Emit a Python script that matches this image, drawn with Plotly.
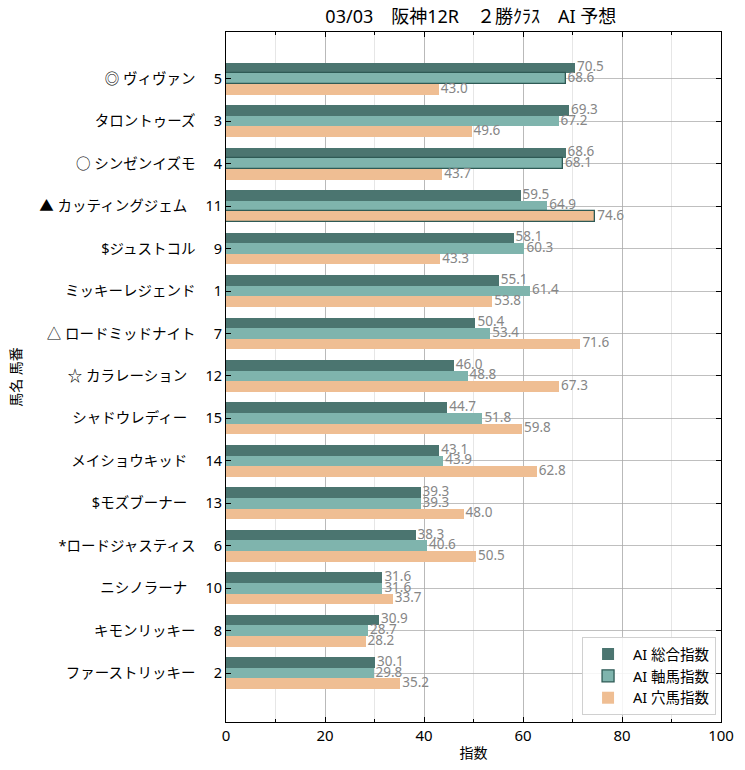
import plotly.graph_objects as go

title = "03/03　阪神12R　２勝ｸﾗｽ　AI 予想"
horse_names = ["◎ ヴィヴァン", "タロントゥーズ", "○ シンゼンイズモ", "▲ カッティングジェム",
               "$ジュストコル", "ミッキーレジェンド", "△ ロードミッドナイト", "☆ カラレーション",
               "シャドウレディー", "メイショウキッド", "$モズブーナー", "*ロードジャスティス",
               "ニシノラーナ", "キモンリッキー", "ファーストリッキー"]
horse_numbers = [5, 3, 4, 11, 9, 1, 7, 12, 15, 14, 13, 6, 10, 8, 2]
series_names = ["AI 総合指数", "AI 軸馬指数", "AI 穴馬指数"]
sogo = [70.5, 69.3, 68.6, 59.5, 58.1, 55.1, 50.4, 46.0, 44.7, 43.1, 39.3, 38.3, 31.6, 30.9, 30.1]
jiku = [68.6, 67.2, 68.1, 64.9, 60.3, 61.4, 53.4, 48.8, 51.8, 43.9, 39.3, 40.6, 31.6, 28.7, 29.8]
ana = [43.0, 49.6, 43.7, 74.6, 43.3, 53.8, 71.6, 67.3, 59.8, 62.8, 48.0, 50.5, 33.7, 28.2, 35.2]
# highlighted (outlined) bars per series
hl_sogo = [False] * 15
hl_jiku = [True, False, True] + [False] * 12
hl_ana = [False, False, False, True] + [False] * 11

colors = ["#4b7570", "#7fb4ad", "#efbe93"]
edge = "#2e5a55"
font = "Noto Sans, Noto Sans CJK JP"

labels = [f"{n}　 {k}" for n, k in zip(horse_names, horse_numbers)]
idx = list(range(len(labels)))
bw = 0.25
offsets = [-bw, 0.0, bw]
label_pad = 0.4

fig = go.Figure()
for s, vals, hl, c, off in zip(series_names, [sogo, jiku, ana], [hl_sogo, hl_jiku, hl_ana], colors, offsets):
    ys = [i + off for i in idx]
    fig.add_trace(go.Bar(
        x=vals, y=ys, orientation="h", width=bw, name=s,
        marker=dict(color=c,
                    line=dict(color=[edge if h else c for h in hl],
                              width=[1.3 if h else 0 for h in hl])),
    ))
for vals, off in zip([sogo, jiku, ana], offsets):
    ys = [i + off for i in idx]
    fig.add_trace(go.Scatter(
        x=[v + label_pad for v in vals], y=ys, mode="text", text=[f"{v:.1f}" for v in vals],
        textposition="middle right", textfont=dict(color="#868686", size=13.5, family=font),
        showlegend=False, hoverinfo="skip", cliponaxis=False,
    ))

fig.update_layout(
    width=745, height=770,
    margin=dict(l=226, r=24, t=32, b=48),
    paper_bgcolor="white", plot_bgcolor="white",
    font=dict(family=font, size=14.5, color="black"),
    title=dict(text=title, x=0.632, xanchor="center", y=0.978, yanchor="middle",
               font=dict(size=18, family=font, color="black")),
    barmode="overlay",
    bargap=0,
    showlegend=True,
    legend=dict(x=0.99, y=0.01, xanchor="right", yanchor="bottom",
                bordercolor="#d0d0d0", borderwidth=1, bgcolor="rgba(255,255,255,0.85)",
                font=dict(size=14.5, family=font, color="black"), traceorder="normal",
                itemwidth=40),
)
fig.update_xaxes(
    range=[0, 100], tickvals=[0, 20, 40, 60, 80, 100],
    ticks="inside", ticklen=5, tickcolor="black",
    showline=True, linecolor="black", linewidth=1.2, mirror="ticks",
    showgrid=True, gridcolor="rgba(170,170,170,0.75)", gridwidth=1,
    minor=dict(dtick=10, tick0=0, ticks="inside", ticklen=3, tickcolor="black",
               showgrid=True, gridcolor="rgba(200,200,200,0.45)", gridwidth=1),
    zeroline=False, layer="above traces",
    title=dict(text="指数", font=dict(size=14, color="black"), standoff=4),
    tickfont=dict(size=15, color="black"),
)
fig.update_yaxes(
    range=[len(labels) - 1 + 1.15, -1.1],
    tickvals=idx, ticktext=labels,
    ticks="inside", ticklen=5, tickcolor="black",
    showline=True, linecolor="black", linewidth=1.2, mirror="ticks",
    showgrid=True, gridcolor="rgba(170,170,170,0.75)", gridwidth=1,
    zeroline=False, layer="above traces",
    title=dict(text="馬名 馬番", font=dict(size=14, color="black"), standoff=14),
    tickfont=dict(size=14.5, color="black"),
)

fig.write_html("out.html")
